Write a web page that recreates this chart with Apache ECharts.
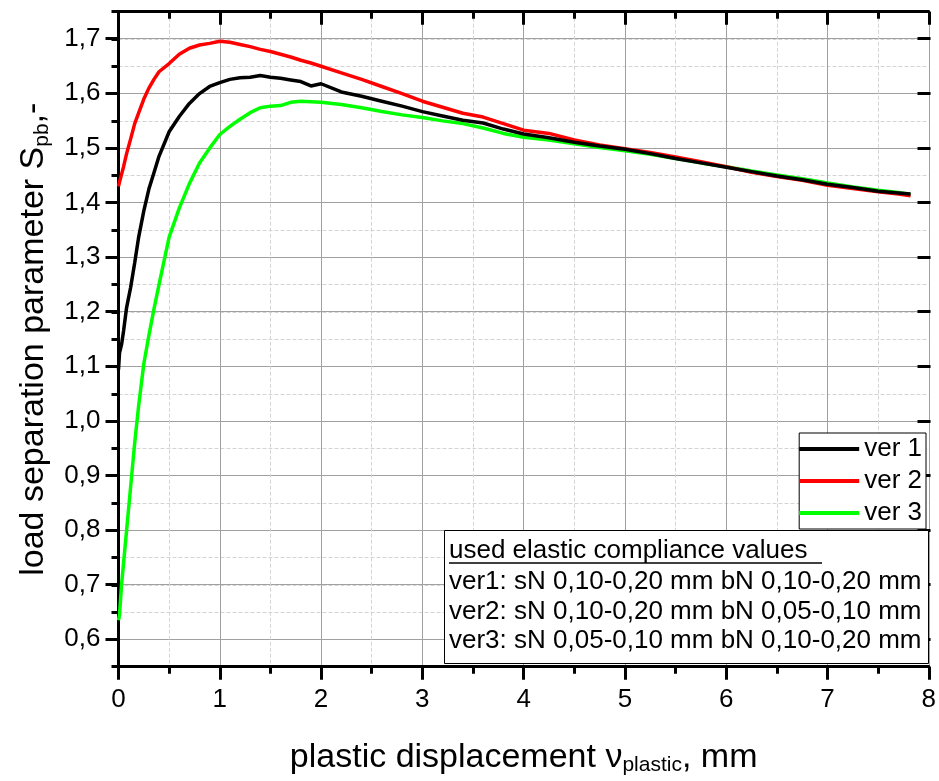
<!DOCTYPE html>
<html>
<head>
<meta charset="utf-8">
<script src="https://cdn.jsdelivr.net/npm/echarts@6/dist/echarts.min.js"></script>
<style>
  html, body { margin: 0; padding: 0; background: #fff; }
  #chart { width: 939px; height: 781px; }
</style>
</head>
<body>
<div id="chart"></div>
<script>
// plastic displacement, mm
var xValues = [0, 0.01, 0.03, 0.05, 0.08, 0.12, 0.16, 0.2, 0.25, 0.3, 0.35, 0.4,
    0.5, 0.6, 0.7, 0.8, 0.9, 1.0, 1.1, 1.2, 1.3, 1.4, 1.5, 1.6, 1.7, 1.8, 1.9, 2.0,
    2.2, 2.4, 2.6, 2.8, 3.0, 3.2, 3.4, 3.6, 3.8, 4.0,
    4.25, 4.5, 4.75, 5.0, 5.25, 5.5, 5.75, 6.0, 6.25, 6.5, 6.75, 7.0, 7.25, 7.5,
    7.7, 7.82];

var ver1 = [1.094, 1.125, 1.14, 1.165, 1.208, 1.245, 1.29, 1.338, 1.385, 1.425, 1.455, 1.485,
    1.53, 1.558, 1.582, 1.60, 1.613, 1.620, 1.626, 1.629, 1.630, 1.633, 1.630, 1.628, 1.625, 1.622, 1.614, 1.618,
    1.603, 1.595, 1.586, 1.577, 1.567, 1.559, 1.551, 1.546, 1.535, 1.526,
    1.519, 1.511, 1.504, 1.498, 1.490, 1.481, 1.473, 1.465, 1.457, 1.449, 1.442, 1.434, 1.428, 1.421,
    1.418, 1.416];

var ver2 = [1.43, 1.438, 1.452, 1.466, 1.49, 1.517, 1.545, 1.565, 1.59, 1.61, 1.626, 1.64,
    1.655, 1.672, 1.683, 1.689, 1.692, 1.696, 1.694, 1.690, 1.686, 1.681, 1.677, 1.672, 1.667, 1.661, 1.656, 1.650,
    1.638, 1.626, 1.613, 1.600, 1.586, 1.575, 1.564, 1.557, 1.545, 1.533,
    1.527, 1.515, 1.506, 1.499, 1.492, 1.484, 1.475, 1.466, 1.456, 1.448, 1.441, 1.432, 1.426, 1.420,
    1.416, 1.413];

var ver3 = [0.635, 0.645, 0.70, 0.74, 0.80, 0.88, 0.96, 1.03, 1.105, 1.157, 1.205, 1.25,
    1.337, 1.39, 1.435, 1.473, 1.50, 1.525, 1.54, 1.553, 1.565, 1.574, 1.577, 1.578, 1.584, 1.586, 1.585, 1.584,
    1.580, 1.574, 1.567, 1.561, 1.556, 1.550, 1.545, 1.537, 1.527, 1.520,
    1.515, 1.508, 1.501, 1.495, 1.489, 1.481, 1.473, 1.466, 1.458, 1.451, 1.444, 1.436, 1.429, 1.423,
    1.419, 1.415];

var seriesNames = ['ver 1', 'ver 2', 'ver 3'];
var seriesColors = ['#000000', '#ff0000', '#00ff00'];

var noteTitle = 'used elastic compliance values';
var noteLines = [
    'ver1: sN 0,10-0,20 mm bN 0,10-0,20 mm',
    'ver2: sN 0,10-0,20 mm bN 0,05-0,10 mm',
    'ver3: sN 0,05-0,10 mm bN 0,10-0,20 mm'
];

var font = '"Liberation Sans", Arial, sans-serif';

function pairs(ys) {
    return xValues.map(function (x, i) { return [x, ys[i]]; });
}
function comma(v) {
    return v.toFixed(1).replace('.', ',');
}

var titleRich = {
    a: { fontSize: 34, color: '#000', fontFamily: font },
    s: { fontSize: 21, color: '#000', fontFamily: font, verticalAlign: 'bottom', padding: [16, 0, 0, 0] }
};

// grid 0 = full plot (0.55..1.75), grid 1 = inner box (0.6..1.7) carrying the major y ticks
var plotLeft = 118.5, plotRight = 8.5;
var option = {
    backgroundColor: '#fff',
    animation: false,
    textStyle: { fontFamily: font },
    grid: [
        { left: plotLeft, right: plotRight, top: 11.7, bottom: 114.3 },
        { left: plotLeft, right: plotRight, top: 38.7, bottom: 141.7 }
    ],
    legend: {
        data: seriesNames,
        orient: 'vertical',
        right: 13,
        top: 433,
        icon: 'rect',
        itemWidth: 60,
        itemHeight: 4,
        itemGap: 6,
        padding: [3, 4, 3, 0],
        backgroundColor: '#fff',
        borderColor: '#000',
        borderWidth: 1,
        textStyle: { fontSize: 26, color: '#000', fontFamily: font }
    },
    xAxis: [{
        gridIndex: 0, type: 'value', min: 0, max: 8, interval: 1,
        name: '{a|plastic displacement ν}{s|plastic}{a|, mm}',
        nameLocation: 'middle',
        nameGap: 72,
        nameTextStyle: { rich: titleRich },
        axisLine: { lineStyle: { color: '#000', width: 3 } },
        axisTick: { length: 13, lineStyle: { color: '#000', width: 3 } },
        minorTick: { show: true, splitNumber: 2, length: 7, lineStyle: { color: '#000', width: 3 } },
        axisLabel: { fontSize: 26, color: '#000', margin: 20 },
        splitLine: { lineStyle: { color: '#a0a0a0', width: 1 } },
        minorSplitLine: { show: true, lineStyle: { color: '#d4d4d4', type: 'dashed', width: 1 } }
    }, {
        gridIndex: 0, type: 'value', min: 0, max: 8, interval: 1, position: 'top',
        axisLine: { lineStyle: { color: '#000', width: 3 } },
        axisTick: { inside: true, length: 13, lineStyle: { color: '#000', width: 3 } },
        minorTick: { show: true, splitNumber: 2, length: 7, lineStyle: { color: '#000', width: 3 } },
        axisLabel: { show: false },
        splitLine: { show: false }
    }, {
        gridIndex: 1, type: 'value', min: 0, max: 8, show: false
    }],
    yAxis: [{
        gridIndex: 0, type: 'value', min: 0.55, max: 1.75, interval: 0.05,
        name: '{a|load separation parameter S}{s|pb}{a|,-}',
        nameLocation: 'middle',
        nameRotate: 90,
        nameGap: 66,
        nameTextStyle: { rich: titleRich },
        axisLine: { lineStyle: { color: '#000', width: 3 } },
        axisTick: { length: 7, lineStyle: { color: '#000', width: 3 } },
        axisLabel: { show: false },
        splitLine: { lineStyle: { color: '#d4d4d4', type: 'dashed', width: 1 } }
    }, {
        gridIndex: 0, type: 'value', min: 0.55, max: 1.75, interval: 0.05, position: 'right',
        axisLine: { show: true, lineStyle: { color: '#000', width: 3 } },
        axisTick: { show: true, inside: true, length: 7, lineStyle: { color: '#000', width: 3 } },
        axisLabel: { show: false },
        splitLine: { show: false }
    }, {
        gridIndex: 1, type: 'value', min: 0.6, max: 1.7, interval: 0.1,
        axisLine: { show: false },
        axisTick: { show: true, length: 13, lineStyle: { color: '#000', width: 3 } },
        axisLabel: { fontSize: 26, color: '#000', margin: 18, formatter: comma },
        splitLine: { lineStyle: { color: '#a0a0a0', width: 1 } }
    }, {
        gridIndex: 1, type: 'value', min: 0.6, max: 1.7, interval: 0.1, position: 'right',
        axisLine: { show: false },
        axisTick: { show: true, inside: true, length: 13, lineStyle: { color: '#000', width: 3 } },
        axisLabel: { show: false },
        splitLine: { show: false }
    }],
    series: [ver1, ver2, ver3].map(function (ys, i) {
        return {
            name: seriesNames[i],
            type: 'line',
            xAxisIndex: 0,
            yAxisIndex: 0,
            data: pairs(ys),
            showSymbol: false,
            symbol: 'none',
            color: seriesColors[i],
            lineStyle: { color: seriesColors[i], width: 3.5 },
            z: 3 - i
        };
    }),
    graphic: [{
        type: 'rect',
        left: 444, top: 530,
        shape: { width: 484, height: 133 },
        style: { fill: '#fff', stroke: '#000', lineWidth: 1 },
        z: 100
    }, {
        type: 'text',
        left: 449, top: 538,
        style: { text: noteTitle, font: '26px ' + font, fill: '#000' },
        z: 101
    }, {
        type: 'line',
        shape: { x1: 449, y1: 563, x2: 822, y2: 563 },
        style: { stroke: '#000', lineWidth: 1.5 },
        z: 101
    }].concat(noteLines.map(function (t, i) {
        return {
            type: 'text',
            left: 449, top: 569 + i * 29.5,
            style: { text: t, font: '26px ' + font, fill: '#000' },
            z: 101
        };
    }))
};

var chart = echarts.init(document.getElementById('chart'));
chart.setOption(option);
</script>
</body>
</html>
